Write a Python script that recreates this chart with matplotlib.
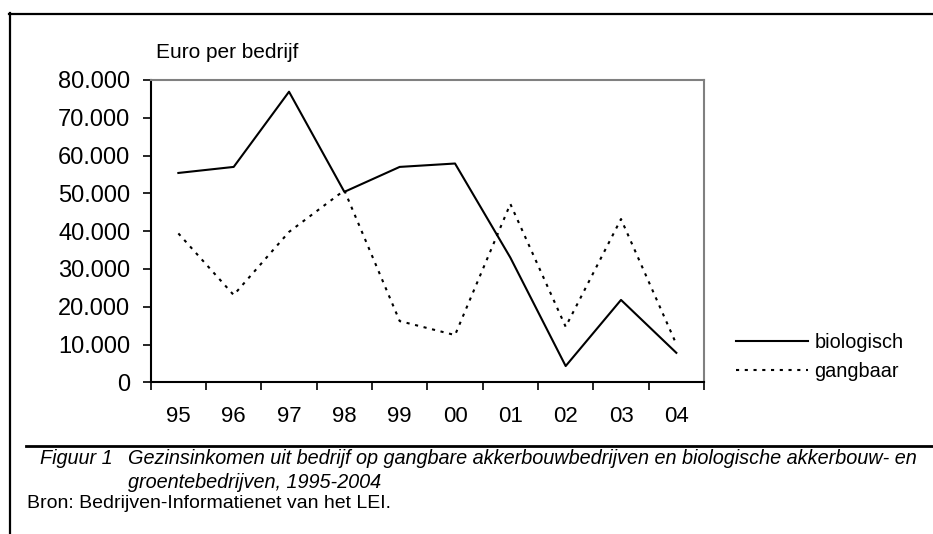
import matplotlib.pyplot as plt
from matplotlib.lines import Line2D
from matplotlib.ticker import FuncFormatter, FixedLocator
import numpy as np

years = ['95', '96', '97', '98', '99', '00', '01', '02', '03', '04']
biologisch = [55400, 57000, 76900, 50400, 57000, 57900, 33000, 4300, 21800, 7800]
gangbaar = [39400, 23100, 39800, 50800, 16200, 12500, 47200, 14700, 43200, 10100]

W, H = 933, 534
plt.rcParams['font.family'] = ['Liberation Sans', 'DejaVu Sans']
fig = plt.figure(figsize=(W / 100, H / 100), dpi=100)

# axes box in pixel coordinates
left, right, top, bottom = 150.7, 704, 80, 382.3
ax = fig.add_axes([left / W, 1 - bottom / H, (right - left) / W, (bottom - top) / H])

x = np.arange(len(years))
ax.plot(x, biologisch, color='black', lw=1.5, label='biologisch')
ax.plot(x, gangbaar, color='black', lw=1.5, linestyle=(0, (1.5, 2.7)), label='gangbaar')

ax.set_xlim(-0.5, len(years) - 0.5)
ax.set_ylim(0, 80000)
ax.set_yticks(np.arange(0, 80001, 10000))
ax.yaxis.set_major_formatter(FuncFormatter(lambda v, p: f"{int(v):,}".replace(',', '.')))

ax.xaxis.set_major_locator(FixedLocator(np.arange(-0.5, len(years), 1.0)))
ax.xaxis.set_minor_locator(FixedLocator(x))
ax.set_xticklabels([], minor=False)
ax.set_xticklabels(years, minor=True)
ax.tick_params(axis='x', which='major', direction='out', length=6, width=1.2, color='black')
ax.tick_params(axis='x', which='minor', length=0, pad=17, labelsize=16)
ax.tick_params(axis='y', direction='out', length=5.8, width=1.2, pad=9, labelsize=17)

for s in ['left', 'bottom']:
    ax.spines[s].set_color('black')
    ax.spines[s].set_linewidth(1.5)
for s in ['top', 'right']:
    ax.spines[s].set_color('#808080')
    ax.spines[s].set_linewidth(1.5)

ax.legend(loc='center left', bbox_to_anchor=(736 / W, 1 - 357 / H),
          bbox_transform=fig.transFigure, frameon=False, fontsize=14.3,
          handlelength=3.6, handletextpad=0.35, labelspacing=0.5, borderpad=0,
          borderaxespad=0)

fig.text(156 / W, 1 - 52 / H, 'Euro per bedrijf', fontsize=15, va='center', ha='left')

# outer frame (left and top edges) and separator line
fig.add_artist(Line2D([9.5 / W, 9.5 / W], [0, 1 - 13 / H], color='black', lw=1.6))
fig.add_artist(Line2D([9 / W, 1], [1 - 13.5 / H, 1 - 13.5 / H], color='black', lw=1.6))
fig.add_artist(Line2D([26 / W, 1], [1 - 445.5 / H, 1 - 445.5 / H], color='black', lw=2))

cap_font = ['Liberation Sans', 'DejaVu Sans']
fig.text(40 / W, 1 - 458 / H, 'Figuur 1', fontsize=14.3, style='italic', va='center',
         family=cap_font)
fig.text(128 / W, 1 - 458 / H,
         'Gezinsinkomen uit bedrijf op gangbare akkerbouwbedrijven en biologische akkerbouw- en',
         fontsize=14.3, style='italic', va='center', family=cap_font)
fig.text(128 / W, 1 - 483 / H, 'groentebedrijven, 1995-2004', fontsize=14.3, style='italic',
         va='center', family=cap_font)
fig.text(27 / W, 1 - 504 / H, 'Bron: Bedrijven-Informatienet van het LEI.', fontsize=14,
         va='center', family=cap_font)

fig.savefig('out.png', dpi=100)
